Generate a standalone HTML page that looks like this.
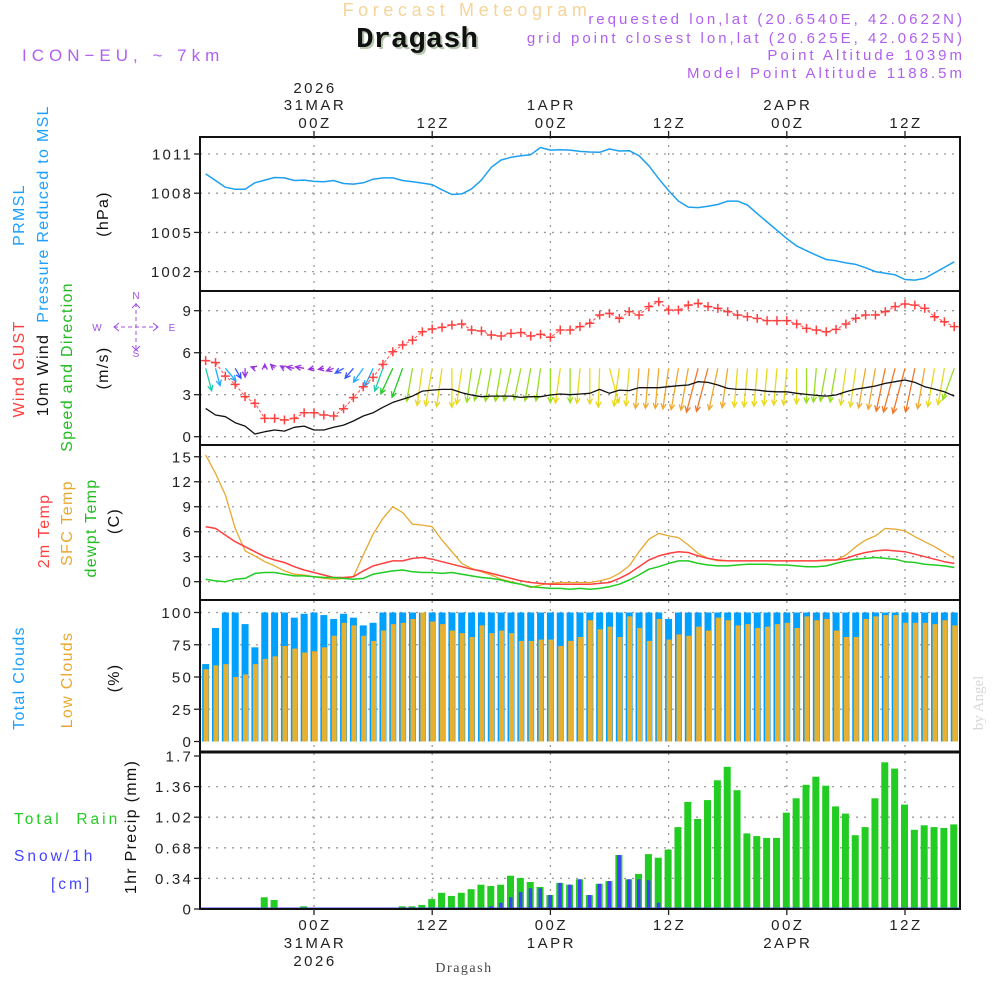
<!DOCTYPE html>
<html><head><meta charset="utf-8"><style>
html,body{margin:0;padding:0;background:#fff;}
svg{display:block;font-family:"Liberation Sans",sans-serif;}
</style></head><body>
<svg id="chart" width="1000" height="1000" viewBox="0 0 1000 1000" xmlns="http://www.w3.org/2000/svg">
<defs>
<clipPath id="c1"><rect x="200" y="137" width="760" height="154"/></clipPath>
<clipPath id="c2"><rect x="200" y="291" width="760" height="154"/></clipPath>
<clipPath id="c3"><rect x="200" y="445" width="760" height="155"/></clipPath>
<clipPath id="c4"><rect x="200" y="600" width="760" height="152"/></clipPath>
<clipPath id="c5"><rect x="200" y="752" width="760" height="157"/></clipPath>
</defs>
<text x="467" y="16" text-anchor="middle" font-size="18" letter-spacing="4.6" fill="#f5d49a">Forecast Meteogram</text>
<text x="419" y="49" text-anchor="middle" font-family="Liberation Mono, monospace" font-weight="bold" font-size="29" fill="#b8c8b0">Dragash</text>
<text x="417" y="47" text-anchor="middle" font-family="Liberation Mono, monospace" font-weight="bold" font-size="29" fill="#111">Dragash</text>
<text x="22" y="61" font-size="17" letter-spacing="5" fill="#b060f0">ICON−EU, ~ 7km</text>
<g font-size="15" letter-spacing="3" fill="#b060f0" text-anchor="end">
<text x="965" y="24">requested lon,lat (20.6540E, 42.0622N)</text>
<text x="965" y="43">grid point closest lon,lat (20.625E, 42.0625N)</text>
<text x="965" y="60">Point Altitude 1039m</text>
<text x="965" y="78">Model Point Altitude 1188.5m</text>
</g>
<g id="grid"></g>
<g id="marks"></g>
<g id="frame" fill="none" stroke="#111" stroke-width="2">
<rect x="200" y="137" width="760" height="772"/>
<line x1="200" y1="291" x2="960" y2="291"/>
<line x1="200" y1="445" x2="960" y2="445"/>
<line x1="200" y1="600" x2="960" y2="600"/>
<line x1="200" y1="752" x2="960" y2="752" stroke-width="3"/>
</g>
<g id="axes" font-size="15" fill="#222"></g>
<g font-size="16" letter-spacing="1.3">
<text transform="translate(24,215) rotate(-90)" text-anchor="middle" fill="#1aa0ff">PRMSL</text>
<text transform="translate(48,214) rotate(-90)" text-anchor="middle" fill="#1aa0ff">Pressure Reduced to MSL</text>
<text transform="translate(108,214) rotate(-90)" text-anchor="middle" fill="#111">(hPa)</text>
<text transform="translate(24,369) rotate(-90)" text-anchor="middle" fill="#ff4040">Wind GUST</text>
<text transform="translate(48,375) rotate(-90)" text-anchor="middle" fill="#111">10m Wind</text>
<text transform="translate(72,367) rotate(-90)" text-anchor="middle" fill="#22bb22">Speed and Direction</text>
<text transform="translate(108,368) rotate(-90)" text-anchor="middle" fill="#111">(m/s)</text>
<text transform="translate(49,531) rotate(-90)" text-anchor="middle" fill="#ff4040">2m Temp</text>
<text transform="translate(72,523) rotate(-90)" text-anchor="middle" fill="#e8a830">SFC Temp</text>
<text transform="translate(96,528) rotate(-90)" text-anchor="middle" fill="#22bb22">dewpt Temp</text>
<text transform="translate(119,521) rotate(-90)" text-anchor="middle" fill="#111">(C)</text>
<text transform="translate(24,678) rotate(-90)" text-anchor="middle" fill="#1aa0ff">Total Clouds</text>
<text transform="translate(72,680) rotate(-90)" text-anchor="middle" fill="#e8a830">Low Clouds</text>
<text transform="translate(119,678) rotate(-90)" text-anchor="middle" fill="#111">(%)</text>
<text transform="translate(136,827) rotate(-90)" text-anchor="middle" fill="#111">1hr Precip (mm)</text>
</g>
<g font-size="15.5" letter-spacing="3">
<text x="14" y="824" fill="#22cc22" xml:space="preserve">Total  Rain</text>
<text x="14" y="861" fill="#4444ff">Snow/1h</text>
<text x="51" y="889" fill="#4444ff">[cm]</text>
</g>
<g fill="#a050e0" stroke="#a050e0" font-size="10">
<text x="136" y="299" text-anchor="middle" stroke="none">N</text>
<text x="136" y="357" text-anchor="middle" stroke="none">S</text>
<text x="97" y="331" text-anchor="middle" stroke="none">W</text>
<text x="172" y="331" text-anchor="middle" stroke="none">E</text>
<line x1="136" y1="303" x2="136" y2="350" stroke-dasharray="4,3" stroke-width="1"/>
<line x1="114" y1="327" x2="158" y2="327" stroke-dasharray="4,3" stroke-width="1"/>
<polyline points="119,323 114,327 119,331" fill="none" stroke-width="1"/>
<polyline points="153,323 158,327 153,331" fill="none" stroke-width="1"/>
<polyline points="132,308 136,304 140,308" fill="none" stroke-width="1"/>
<polyline points="132,346 136,350 140,346" fill="none" stroke-width="1"/>
</g>
<text x="464" y="972" text-anchor="middle" font-family="Liberation Serif, serif" font-size="14" letter-spacing="1.5" fill="#444">Dragash</text>
<text transform="translate(983,703) rotate(-90)" text-anchor="middle" font-family="Liberation Serif, serif" font-size="15" fill="#d8d8d8">by Angel</text>
</svg>
<script>
// ===== data (hour offsets relative to 31MAR 00Z) =====
const hours = [];
for (let h = -11; h <= 65; h++) hours.push(h);
const pressure = [1009.48,1008.97,1008.46,1008.3,1008.3,1008.8,1009.0,1009.2,1009.17,1008.97,1009.0,1008.9,1008.87,1008.97,1008.74,1008.7,1008.8,1009.07,1009.17,1009.17,1008.97,1008.87,1008.77,1008.66,1008.26,1007.9,1007.95,1008.33,1009.0,1009.98,1010.54,1010.75,1010.87,1010.95,1011.5,1011.3,1011.33,1011.3,1011.2,1011.15,1011.13,1011.38,1011.23,1011.25,1010.87,1010.1,1009.1,1008.2,1007.4,1006.94,1006.9,1007.0,1007.14,1007.4,1007.4,1007.1,1006.43,1005.8,1005.16,1004.53,1003.97,1003.6,1003.26,1002.93,1002.83,1002.67,1002.55,1002.3,1002.0,1001.87,1001.76,1001.4,1001.35,1001.48,1001.9,1002.32,1002.75];
const windGust = [5.43,5.29,4.33,3.74,2.86,2.38,1.31,1.31,1.19,1.31,1.71,1.71,1.55,1.48,2.0,2.79,3.57,4.24,5.17,6.07,6.55,6.9,7.5,7.69,7.81,7.98,8.05,7.62,7.55,7.26,7.19,7.38,7.43,7.19,7.31,7.1,7.62,7.62,7.86,8.1,8.69,8.81,8.45,8.93,8.69,9.29,9.64,9.05,9.05,9.4,9.52,9.29,9.17,8.93,8.69,8.57,8.45,8.29,8.29,8.29,8.05,7.74,7.62,7.5,7.67,8.05,8.45,8.69,8.69,8.93,9.29,9.48,9.4,9.17,8.57,8.21,7.86];
const windSpeed = [2.02,1.55,1.43,1.0,0.76,0.19,0.36,0.48,0.4,0.67,0.76,0.48,0.48,0.67,0.83,1.12,1.48,1.71,2.1,2.45,2.67,2.9,3.26,3.33,3.38,3.38,3.14,2.98,2.86,2.9,2.9,2.9,2.81,2.86,2.86,2.98,3.05,3.0,3.05,3.1,3.38,3.1,3.33,3.29,3.5,3.5,3.5,3.57,3.64,3.69,3.93,3.88,3.69,3.45,3.38,3.38,3.33,3.24,3.21,3.21,3.1,3.02,2.95,2.9,2.98,3.21,3.4,3.5,3.62,3.81,3.93,4.05,3.88,3.57,3.4,3.21,2.9];
const windDir = [345,345,320,330,0,110,180,135,120,100,100,80,80,70,60,40,35,25,20,25,20,10,8,10,8,0,8,8,12,10,10,12,12,10,8,0,8,0,5,0,2,345,8,5,5,5,5,8,10,10,15,15,12,8,5,5,5,5,5,5,0,0,5,10,10,8,8,10,10,12,15,15,12,10,10,10,20];
const temp2m = [6.6,6.4,5.6,4.8,4.2,3.6,3.0,2.6,2.3,1.8,1.4,1.1,0.8,0.5,0.5,0.6,1.3,1.9,2.2,2.5,2.5,2.8,2.9,2.7,2.4,2.1,1.8,1.5,1.3,1.0,0.7,0.4,0.1,-0.1,-0.2,-0.3,-0.3,-0.3,-0.3,-0.3,-0.2,-0.1,0.4,1.0,1.8,2.6,3.1,3.4,3.6,3.5,3.1,2.8,2.6,2.5,2.5,2.5,2.5,2.5,2.5,2.5,2.5,2.5,2.5,2.6,2.6,2.8,3.2,3.5,3.7,3.8,3.7,3.6,3.3,3.0,2.7,2.4,2.2];
const tempSfc = [15.2,13,10.4,6.4,3.7,3.1,2.4,1.9,1.3,0.9,0.8,0.6,0.4,0.3,0.4,0.6,3.2,5.7,7.6,9.0,8.3,6.9,6.8,6.6,5.0,3.6,2.2,1.6,1.2,0.8,0.3,0,-0.3,-0.7,-0.4,-0.2,-0.1,-0.1,-0.1,-0.1,0.1,0.4,1.0,1.9,3.6,5.1,5.8,5.5,5.3,4.4,3.4,2.8,2.5,2.5,2.5,2.5,2.5,2.5,2.5,2.5,2.5,2.5,2.5,2.5,2.6,3.2,4.2,5.0,5.5,6.4,6.3,6.1,5.4,4.8,4.2,3.5,2.8];
const dewpoint = [0.3,0.1,0,0.3,0.4,1.0,1.1,1.1,0.9,0.7,0.7,0.6,0.5,0.5,0.4,0.3,0.4,0.9,1.1,1.3,1.4,1.2,1.1,1.1,1.0,1.1,0.9,0.7,0.5,0.4,0.2,-0.1,-0.3,-0.6,-0.7,-0.8,-0.8,-0.9,-0.8,-0.9,-0.8,-0.6,-0.3,0.2,0.8,1.5,1.8,2.2,2.5,2.5,2.2,2.0,1.9,1.9,2.0,2.1,2.1,2.1,2.0,2.0,1.9,1.8,1.8,1.9,2.2,2.5,2.7,2.8,2.9,2.8,2.7,2.4,2.3,2.1,2.0,1.9,1.7];
const totalClouds = [60,88,100,100,91,73,100,100,100,96,99,100,98,95,99,96,90,92,100,100,100,100,100,100,100,100,100,100,100,100,100,100,100,100,100,100,100,100,100,100,100,100,100,100,100,100,100,95,100,100,100,100,100,100,100,100,100,100,100,100,100,100,100,100,100,100,100,100,100,100,100,100,100,100,100,100,100];
const lowClouds = [56,59,60,50,52,60,64,66,74,72,69,70,73,82,92,90,82,78,86,91,92,95,100,93,91,86,84,81,90,84,86,84,78,78,79,79,74,78,81,94,87,89,81,97,88,78,95,79,83,82,89,86,96,94,90,91,88,89,91,92,88,97,94,95,86,81,81,95,97,98,98,92,92,92,91,94,90];
const totalRain = [0,0,0,0,0,0,0.13,0.10,0.005,0.005,0.03,0,0,0,0,0,0,0,0,0,0.03,0.03,0.045,0.11,0.18,0.145,0.18,0.22,0.27,0.255,0.27,0.37,0.345,0.30,0.245,0.155,0.29,0.27,0.33,0.155,0.28,0.31,0.60,0.33,0.39,0.61,0.57,0.66,0.91,1.19,1.0,1.21,1.43,1.58,1.32,0.84,0.81,0.79,0.79,1.07,1.23,1.38,1.47,1.37,1.14,1.06,0.82,0.91,1.23,1.63,1.56,1.16,0.88,0.93,0.91,0.90,0.94];
const snow = [0,0,0,0,0,0,0,0,0,0,0,0,0,0,0,0,0,0,0,0,0,0,0,0,0,0,0,0,0.005,0.03,0.07,0.13,0.19,0.23,0.23,0.155,0.29,0.27,0.33,0.155,0.28,0.31,0.60,0.33,0.33,0.32,0.07,0,0,0,0,0,0,0,0,0,0,0,0,0,0,0,0,0,0,0,0,0,0,0,0,0,0,0,0,0,0];
const pressureTicks = [1011,1008,1005,1002];
const windTicks = [0,3,6,9];
const tempTicks = [0,3,6,9,12,15];
const cloudTicks = [0,25,50,75,100];
const precipTicks = [0,0.34,0.68,1.02,1.36,1.7];
const timeTicks = [0,12,24,36,48,60];
const timeTickHours = ["00Z","12Z","00Z","12Z","00Z","12Z"];
const timeTickDays = ["31MAR","","1APR","","2APR",""];
const timeTickYears = ["2026","","","","",""];

// ===== scales =====
const NS = "http://www.w3.org/2000/svg";
const xS = h => 314 + h * 9.85;
const yP = v => 154 + (1011 - v) * 13.07;
const yW = v => 436.7 - v * 14.0;
const yT = v => 581.7 - v * 8.33;
const yC = v => 741.5 - v * 1.29;
const yR = v => 909 - v * 90;

function mk(tag, attrs, parent) {
  const e = document.createElementNS(NS, tag);
  for (const k in attrs) e.setAttribute(k, attrs[k]);
  parent.appendChild(e);
  return e;
}
const grid = document.getElementById('grid');
const marks = document.getElementById('marks');
const axes = document.getElementById('axes');

timeTicks.forEach(h => {
  const x = xS(h);
  const l = mk('line', {x1:x, y1:137, x2:x, y2:909, stroke:'#9a9a9a', 'stroke-width':1.3, 'stroke-dasharray':'2,6'}, grid);
  
  
  [[137,131],[909,915]].forEach(p => {
    const t = mk('line', {x1:x, y1:p[0], x2:x, y2:p[1], stroke:'#222', 'stroke-width':1.3}, axes);
    
    
  });
});
function yAxis(ticks, scale, fmt, gridOK) {
  ticks.forEach(v => {
    const y = scale(v);
    if (gridOK(v)) {
      const g = mk('line', {x1:200, y1:y, x2:960, y2:y, stroke:'#9a9a9a', 'stroke-width':1.3, 'stroke-dasharray':'2,6'}, grid);
      
      
    }
    const t = mk('line', {x1:194, y1:y, x2:200, y2:y, stroke:'#222', 'stroke-width':1.3}, axes);
    
    
    const tx = mk('text', {x:193, y:y + 5.5, 'text-anchor':'end', 'letter-spacing':'2.2'}, axes);
    tx.textContent = fmt(v);
    
    
  });
}
yAxis(pressureTicks, yP, v => String(v), v => true);
yAxis(windTicks, yW, v => String(v), v => true);
yAxis(tempTicks, yT, v => String(v), v => true);
yAxis(cloudTicks, yC, v => String(v), v => v > 0);
yAxis(precipTicks, yR, v => String(v), v => v > 0 && v < 1.7);

timeTicks.forEach((h, i) => {
  const x = xS(h);
  const lines = [timeTickYears[i], timeTickDays[i], timeTickHours[i]];
  const topY = [93, 110, 128];
  lines.forEach((s, j) => {
    if (!s) return;
    const t = mk('text', {x:x + 1, y:topY[j], 'text-anchor':'middle', 'letter-spacing':'2.5'}, axes);
    t.textContent = s;
    
    
  });
  const bot = [timeTickHours[i], timeTickDays[i], timeTickYears[i]];
  const botY = [930, 948, 966];
  bot.forEach((s, j) => {
    if (!s) return;
    const t = mk('text', {x:x + 1, y:botY[j], 'text-anchor':'middle', 'letter-spacing':'2.5'}, axes);
    t.textContent = s;
    
    
  });
});

function linePath(vals, scale, color, width, clip, name, dash) {
  const pts = vals.map((v, i) => xS(hours[i]).toFixed(1) + ',' + scale(v).toFixed(1)).join(' ');
  const a = {points:pts, fill:'none', stroke:color, 'stroke-width':width, 'clip-path':'url(#' + clip + ')', 'stroke-linejoin':'round'};
  if (dash) a['stroke-dasharray'] = dash;
  const p = mk('polyline', a, marks);
  
  
}

const cg = mk('g', {'clip-path':'url(#c4)'}, marks);
totalClouds.forEach((v, i) => {
  const x = xS(hours[i]);
  const r = mk('rect', {x:x - 3.5, y:yC(v), width:7, height:yC(0) - yC(v), fill:'#00a0ff'}, cg);
  
  
});
lowClouds.forEach((v, i) => {
  const x = xS(hours[i]);
  const r = mk('rect', {x:x - 2, y:yC(v), width:5, height:yC(0) - yC(v), fill:'#e8b030'}, cg);
  
  
});
const pg = mk('g', {'clip-path':'url(#c5)'}, marks);
totalRain.forEach((v, i) => {
  if (v <= 0) return;
  const x = xS(hours[i]);
  const r = mk('rect', {x:x - 4, y:yR(v), width:7, height:yR(0) - yR(v), fill:'#22cc22'}, pg);
  
  
});
snow.forEach((v, i) => {
  if (v <= 0) return;
  const x = xS(hours[i]);
  const r = mk('rect', {x:x - 2, y:yR(v), width:3.5, height:yR(0) - yR(v), fill:'#4040ff'}, pg);
  
  
});
const bl = mk('line', {x1:200, y1:908, x2:960, y2:908, stroke:'#4040ff', 'stroke-width':1}, pg);



linePath(pressure, yP, '#1ea0f0', 1.5, 'c1', 'pressure-line');
linePath(tempSfc, yT, '#e8a830', 1.3, 'c3', 'sfc-temp-line');
linePath(temp2m, yT, '#ff4040', 1.5, 'c3', 'temp-2m-line');
linePath(dewpoint, yT, '#22cc22', 1.5, 'c3', 'dewpoint-line');

function windColor(s) {
  if (s < 0.8) return '#9933dd';
  if (s < 1.3) return '#3355ff';
  if (s < 1.8) return '#22aaff';
  if (s < 2.3) return '#22ccaa';
  if (s < 2.8) return '#22cc22';
  if (s < 3.05) return '#99dd22';
  if (s < 3.45) return '#e8d820';
  if (s < 3.8) return '#eeaa30';
  return '#f07828';
}
const wg = mk('g', {'clip-path':'url(#c2)', fill:'none', 'stroke-width':1.3}, marks);
windSpeed.forEach((s, i) => {
  const x = xS(hours[i]);
  const y0 = 368.3;
  const to = (windDir[i] + 180) * Math.PI / 180;
  const ux = Math.sin(to), uy = -Math.cos(to);
  const L = Math.max(s * 11.5, 4);
  const tx = x + ux * L, ty = y0 + uy * L;
  const c = windColor(s);
  const hl = 6, a = 0.45;
  const bx = -ux, by = -uy;
  const h1x = tx + hl * (bx * Math.cos(a) - by * Math.sin(a));
  const h1y = ty + hl * (bx * Math.sin(a) + by * Math.cos(a));
  const h2x = tx + hl * (bx * Math.cos(-a) - by * Math.sin(-a));
  const h2y = ty + hl * (bx * Math.sin(-a) + by * Math.cos(-a));
  const p = mk('path', {d:`M${x.toFixed(1)},${y0} L${tx.toFixed(1)},${ty.toFixed(1)} M${h1x.toFixed(1)},${h1y.toFixed(1)} L${tx.toFixed(1)},${ty.toFixed(1)} L${h2x.toFixed(1)},${h2y.toFixed(1)}`, stroke:c}, wg);
  
  
});
linePath(windSpeed, yW, '#111', 1.3, 'c2', 'wind-speed-line');
linePath(windGust, yW, '#ff5050', 1, 'c2', 'wind-gust-line', '3,2');
const gg = mk('g', {'clip-path':'url(#c2)', stroke:'#ff4040', 'stroke-width':1.5}, marks);
windGust.forEach((v, i) => {
  const x = xS(hours[i]), y = yW(v);
  const p = mk('path', {d:`M${x - 4.5},${y} H${x + 4.5} M${x},${y - 4.5} V${y + 4.5}`}, gg);
  
  
});
</script>
</body></html>
